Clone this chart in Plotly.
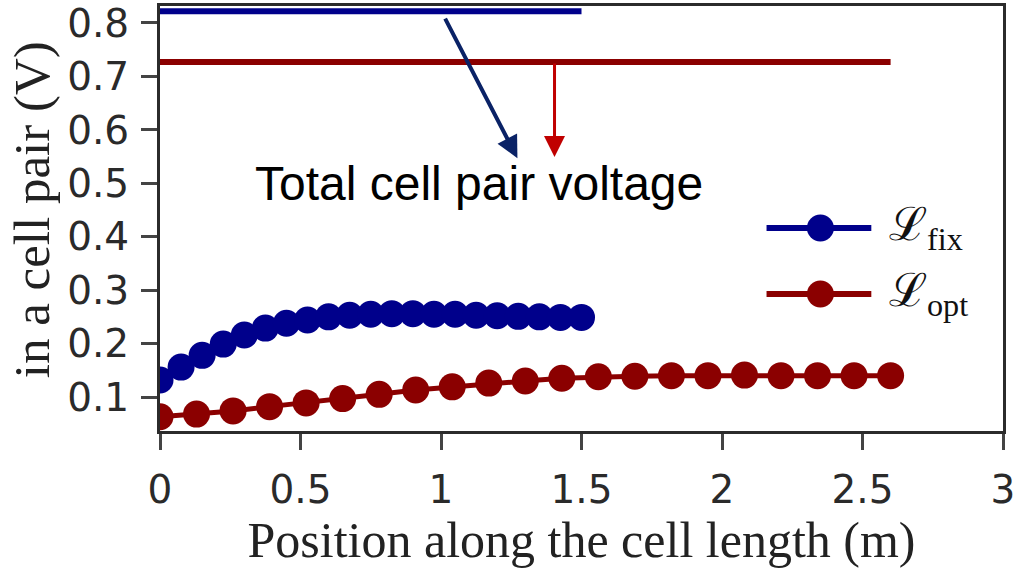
import plotly.graph_objects as go

# Position along the cell (m)
pos_fix = [0.0, 0.075, 0.15, 0.225, 0.3, 0.375, 0.45, 0.525, 0.6, 0.675, 0.75,
           0.825, 0.9, 0.975, 1.05, 1.125, 1.2, 1.275, 1.35, 1.425, 1.5]
pos_opt = [0.0, 0.13, 0.26, 0.39, 0.52, 0.65, 0.78, 0.91, 1.04, 1.17, 1.3,
           1.43, 1.56, 1.69, 1.82, 1.95, 2.08, 2.21, 2.34, 2.47, 2.6]

# Voltage drop in a cell pair (V)
v_fix = [0.132, 0.156, 0.178, 0.199, 0.216, 0.229, 0.238, 0.244, 0.250, 0.253, 0.255,
         0.256, 0.256, 0.255, 0.255, 0.253, 0.252, 0.251, 0.250, 0.249, 0.249]
v_opt = [0.063, 0.068, 0.074, 0.082, 0.089, 0.097, 0.105, 0.113, 0.119, 0.126, 0.130,
         0.135, 0.138, 0.139, 0.140, 0.140, 0.141, 0.140, 0.140, 0.140, 0.140]

# Total cell pair voltage for each cell length
total_fix = 0.822
total_opt = 0.727
length_fix = 1.5
length_opt = 2.6

x_ticks = [0, 0.5, 1, 1.5, 2, 2.5, 3]
x_tick_text = ["0", "0.5", "1", "1.5", "2", "2.5", "3"]
y_ticks = [0.1, 0.2, 0.3, 0.4, 0.5, 0.6, 0.7, 0.8]
y_tick_text = ["0.1", "0.2", "0.3", "0.4", "0.5", "0.6", "0.7", "0.8"]

# Caption and the arrows leading to it (data coordinates: tail -> head)
caption_x, caption_y = 1.136, 0.50
arrow_fix = dict(ax=1.012, ay=0.811, x=1.272, y=0.547)
arrow_opt = dict(ax=1.404, ay=total_opt, x=1.404, y=0.549)

BLUE = "#00008b"
RED = "#8b0000"
AXIS = "#2b2b2b"
SERIF = "Liberation Serif, Times New Roman, serif"
SANS = "DejaVu Sans, Verdana, sans-serif"

fig = go.Figure()

fig.add_trace(go.Scatter(x=[0, length_fix], y=[total_fix, total_fix], mode="lines",
                         line=dict(color=BLUE, width=6), showlegend=False))
fig.add_trace(go.Scatter(x=[0, length_opt], y=[total_opt, total_opt], mode="lines",
                         line=dict(color=RED, width=6), showlegend=False))

fig.add_trace(go.Scatter(x=pos_fix, y=v_fix, mode="lines+markers",
                         line=dict(color=BLUE, width=5),
                         marker=dict(color=BLUE, size=27), showlegend=False))
fig.add_trace(go.Scatter(x=pos_opt, y=v_opt, mode="lines+markers",
                         line=dict(color=RED, width=5),
                         marker=dict(color=RED, size=27), showlegend=False))

# Hand-drawn legend: line + dot glyph, then a serif label
legend_rows = [(0.4776, BLUE, "ℒ<sub>fix</sub>"), (0.3224, RED, "ℒ<sub>opt</sub>")]
shapes = []
annotations = []
for ypos, col, label in legend_rows:
    shapes.append(dict(type="line", xref="paper", yref="paper",
                       x0=0.7195, x1=0.8438, y0=ypos, y1=ypos,
                       line=dict(color=col, width=6)))
    shapes.append(dict(type="circle", xref="paper", yref="paper",
                       xsizemode="pixel", ysizemode="pixel",
                       xanchor=0.7834, yanchor=ypos,
                       x0=-13.5, x1=13.5, y0=-13.5, y1=13.5,
                       fillcolor=col, line=dict(width=0)))
    annotations.append(dict(xref="paper", yref="paper", x=0.862, y=ypos,
                            xanchor="left", yanchor="middle", showarrow=False,
                            text=label, font=dict(family=SERIF, size=46, color="#111")))

# Arrows from the total voltage lines to the caption
for arr, col, w, sz in [(arrow_fix, "#0a2266", 4, 1.1), (arrow_opt, "#c00000", 3, 1.4)]:
    annotations.append(dict(x=arr["x"], y=arr["y"], ax=arr["ax"], ay=arr["ay"],
                            xref="x", yref="y", axref="x", ayref="y",
                            text="", showarrow=True, arrowhead=2, arrowsize=sz,
                            arrowwidth=w, arrowcolor=col))

annotations.append(dict(x=caption_x, y=caption_y, xref="x", yref="y", showarrow=False,
                        text="Total cell pair voltage", xanchor="center", yanchor="middle",
                        font=dict(family="Liberation Sans, Arial, sans-serif", size=48, color="#000")))

# Y-axis title
annotations.append(dict(xref="paper", yref="paper", x=-0.1515, y=0.52,
                        xanchor="center", yanchor="middle", showarrow=False,
                        textangle=-90, text="in a cell pair (V)",
                        font=dict(family=SERIF, size=51, color="#222")))

fig.update_layout(
    width=1015, height=573,
    margin=dict(l=160, r=12, t=6, b=142),
    paper_bgcolor="white", plot_bgcolor="white",
    shapes=shapes, annotations=annotations,
    xaxis=dict(range=[0, 3], tickvals=x_ticks, ticktext=x_tick_text,
               automargin=False, ticklabeloverflow="allow",
               showgrid=False, zeroline=False,
               showline=True, linecolor=AXIS, linewidth=3, mirror=True,
               ticks="outside", ticklen=16, tickwidth=3, tickcolor="#444",
               ticklabelstandoff=6,
               tickfont=dict(family=SANS, size=39, color="#2a2a2a"),
               title=dict(text="Position along the cell length (m)", standoff=8,
                          font=dict(family=SERIF, size=50, color="#222"))),
    yaxis=dict(range=[0.0364, 0.8318], tickvals=y_ticks, ticktext=y_tick_text,
               automargin=False, ticklabeloverflow="allow",
               showgrid=False, zeroline=False,
               showline=True, linecolor=AXIS, linewidth=3, mirror=True,
               ticks="outside", ticklen=16, tickwidth=3, tickcolor="#444",
               ticklabelstandoff=4,
               tickfont=dict(family=SANS, size=39, color="#2a2a2a")),
)

fig.write_html("out.html")
